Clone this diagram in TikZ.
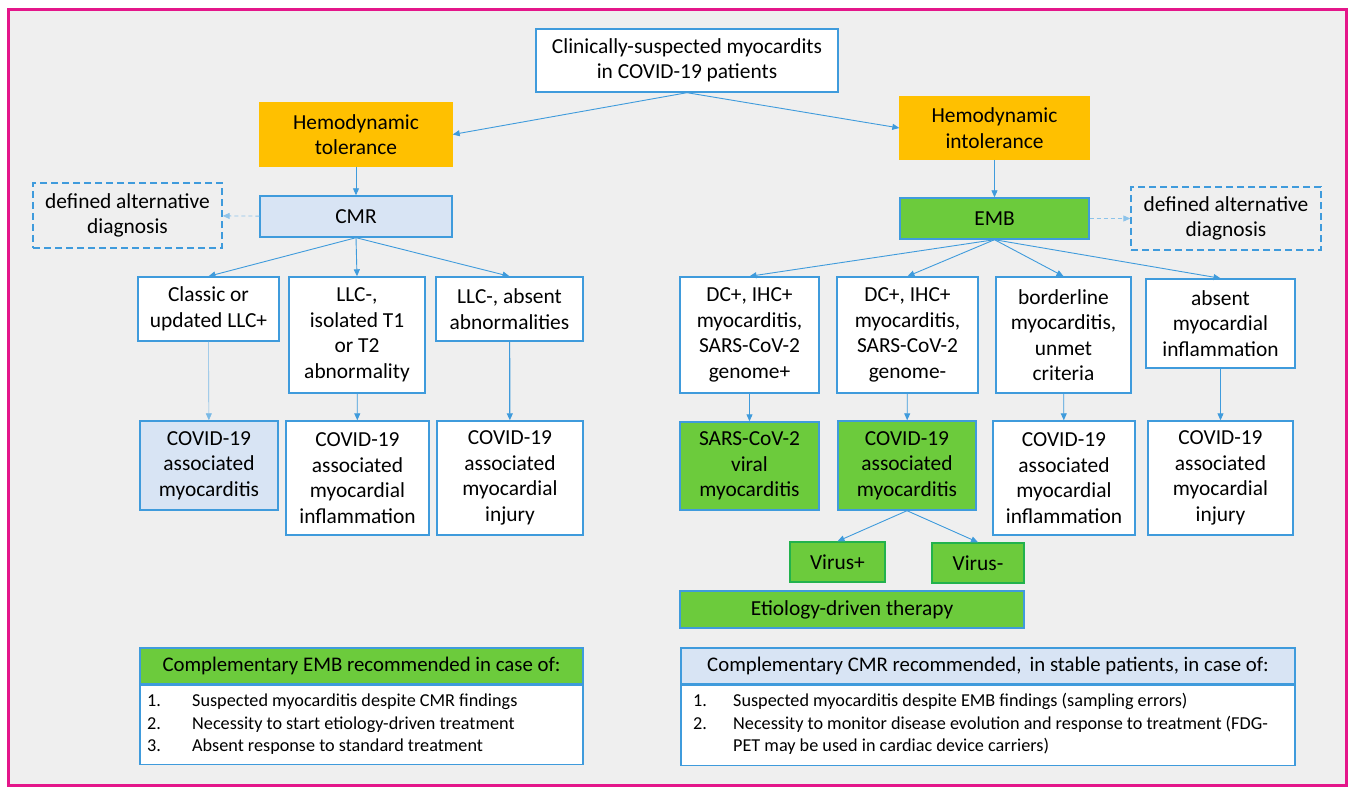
\documentclass[tikz,border=0pt]{standalone}
\usepackage{fontspec}
\setmainfont{Carlito}
\usepackage{tikz}
\usetikzlibrary{arrows.meta}
\definecolor{cblue}{HTML}{3F9BDC}
\definecolor{lblue}{HTML}{D8E4F4}
\definecolor{corange}{HTML}{FFC000}
\definecolor{cgreen}{HTML}{6CCB3C}
\definecolor{dgreen}{HTML}{22B24C}
\definecolor{cmag}{HTML}{E4168A}
\definecolor{cbg}{HTML}{EFEFEF}
\newcommand\bxfont{\fontsize{21.4}{25.5}\selectfont}
\newcommand\hdfont{\fontsize{20.8}{25}\selectfont}
\newcommand\lsfont{\fontsize{18.2}{22.5}\selectfont}
\tikzset{
	box/.style={draw=cblue, fill=white, line width=1.4pt, align=center, inner sep=0pt, font=\bxfont},
	hemo/.style={box, draw=corange, fill=corange},
	cmrbox/.style={box, fill=lblue},
	embbox/.style={box, fill=cgreen},
	virbox/.style={box, draw=dgreen, fill=cgreen},
	altbox/.style={box, fill=none, dashed, dash pattern=on 7pt off 4pt},
	arr/.style={draw=cblue, line width=0.9pt, -{Triangle[length=7pt,width=6pt]}},
	darr/.style={arr, draw=cblue!60, dashed, dash pattern=on 4pt off 3pt},
}

\begin{document}
\begin{tikzpicture}[x=1pt, y=-1pt]
		%%%%% START %%%%%
		\useasboundingbox (0, 0) rectangle (1353, 789);
		\draw[cmag, line width=3pt, fill=cbg] (8, 10) rectangle (1346, 785);
		
		\node[box, minimum width=302, minimum height=63] (top) at (687, 60.5) {Clinically-suspected myocardits\\in COVID-19 patients};
		
		\node[hemo, minimum width=192, minimum height=63] (hemtol) at (356, 134.5) {Hemodynamic\\tolerance};
		\node[hemo, minimum width=189, minimum height=62] (hemint) at (994.5, 128) {Hemodynamic\\intolerance};
		
		\node[cmrbox, minimum width=192, minimum height=41] (cmr) at (356, 216.5) {CMR};
		\node[embbox, minimum width=189, minimum height=41] (emb) at (994.5, 218.5) {EMB};
		\node[altbox, minimum width=189, minimum height=65] (altl) at (127.5, 215.5) {defined alternative\\diagnosis};
		\node[altbox, minimum width=190, minimum height=63] (altr) at (1226, 218.5) {defined alternative\\diagnosis};
		
		% CMR side
		\node[box, minimum width=141, minimum height=64] (cls) at (208.5, 309) {Classic or\\updated LLC+};
		\node[box, minimum width=136, minimum height=116] (iso) at (357, 335) {LLC-,\\isolated T1\\or T2\\abnormality};
		\node[box, minimum width=147, minimum height=64] (absl) at (509.5, 309) {LLC-, absent\\abnormalities};
		\node[cmrbox, minimum width=138, minimum height=89] (myol) at (209, 465.5) {COVID-19\\associated\\myocarditis};
		\node[box, minimum width=143, minimum height=114] (infll) at (357.5, 478) {COVID-19\\associated\\myocardial\\inflammation};
		\node[box, minimum width=146, minimum height=114] (injl) at (510, 478) {COVID-19\\associated\\myocardial\\injury};
		
		% EMB side
		\node[box, minimum width=139, minimum height=116] (gp) at (749.5, 335) {DC+, IHC+\\myocarditis,\\SARS-CoV-2\\genome+};
		\node[box, minimum width=141, minimum height=116] (gm) at (907.5, 335) {DC+, IHC+\\myocarditis,\\SARS-CoV-2\\genome-};
		\node[box, minimum width=135, minimum height=116] (bord) at (1063.5, 335) {borderline\\myocarditis,\\unmet\\criteria};
		\node[box, minimum width=149, minimum height=89] (absm) at (1220.5, 323.5) {absent\\myocardial\\inflammation};
		\node[embbox, minimum width=139, minimum height=88] (viral) at (749.5, 466) {SARS-CoV-2\\viral\\myocarditis};
		\node[embbox, minimum width=138, minimum height=89] (myor) at (907, 465.5) {COVID-19\\associated\\myocarditis};
		\node[box, minimum width=142, minimum height=114] (inflr) at (1064, 478) {COVID-19\\associated\\myocardial\\inflammation};
		\node[box, minimum width=145, minimum height=114] (injr) at (1220.5, 478) {COVID-19\\associated\\myocardial\\injury};
		\node[virbox, minimum width=95, minimum height=40] (vp) at (837.5, 562) {Virus+};
		\node[virbox, minimum width=92, minimum height=40] (vm) at (978, 563) {Virus-};
		\node[embbox, minimum width=344, minimum height=37] (etio) at (852, 609.5) {Etiology-driven therapy};
		
		% arrows
		\draw[arr] (top.south) -- (hemtol.east);
		\draw[arr] (top.south) -- (hemint.west);
		\draw[arr] (hemtol) -- (cmr);
		\draw[arr] (hemint) -- (emb);
		\draw[darr] (cmr) -- (altl);
		\draw[darr] (emb) -- (altr);
		\draw[arr] (cmr.south) -- (cls.north);
		\draw[arr] (cmr.south) -- (iso.north);
		\draw[arr] (cmr.south) -- (absl.north);
		\draw[arr, draw=cblue!70, line width=0.6pt] (cls) -- (myol);
		\draw[arr] (iso) -- (infll);
		\draw[arr, line width=1.2pt] (absl) -- (injl);
		\draw[arr] (emb.south) -- (gp.north);
		\draw[arr] (emb.south) -- (gm.north);
		\draw[arr] (emb.south) -- (bord.north);
		\draw[arr] (emb.south) -- (absm.north);
		\draw[arr] (gp) -- (viral);
		\draw[arr] (gm) -- (myor);
		\draw[arr] (bord) -- (inflr);
		\draw[arr] (absm) -- (injr);
		\draw[arr] (myor.south) -- (vp.north);
		\draw[arr] (myor.south) -- (vm.north);
		
		% recommendation boxes
		\node[embbox, font=\hdfont, minimum width=443, minimum height=36] (hdl) at (361.5, 666) {Complementary EMB recommended in case of:};
		\node[box, minimum width=443, minimum height=79, anchor=north] (bdl) at (hdl.south) {};
		\node[anchor=west, inner sep=0pt, font=\lsfont, align=left] (lstl) at (147, 724.5) {\begin{tabular}{@{}p{45pt}@{}l@{}}
			1. & Suspected myocarditis despite CMR findings\\
			2. & Necessity to start etiology-driven treatment\\
			3. & Absent response to standard treatment
		\end{tabular}};
		
		\node[cmrbox, font=\hdfont, minimum width=614, minimum height=36] (hdr) at (988, 666) {Complementary CMR recommended,\, in stable patients, in case of:};
		\node[box, minimum width=614, minimum height=80, anchor=north] (bdr) at (hdr.south) {};
		\node[anchor=west, inner sep=0pt, font=\lsfont, align=left] (lstr) at (693, 724.5) {\begin{tabular}{@{}p{40pt}@{}l@{}}
			1. & Suspected myocarditis despite EMB findings (sampling errors)\\
			2. & Necessity to monitor disease evolution and response to treatment (FDG-\\
			   & PET may be used in cardiac device carriers)
		\end{tabular}};
		%%%%% END %%%%%
	\end{tikzpicture}
\end{document}
